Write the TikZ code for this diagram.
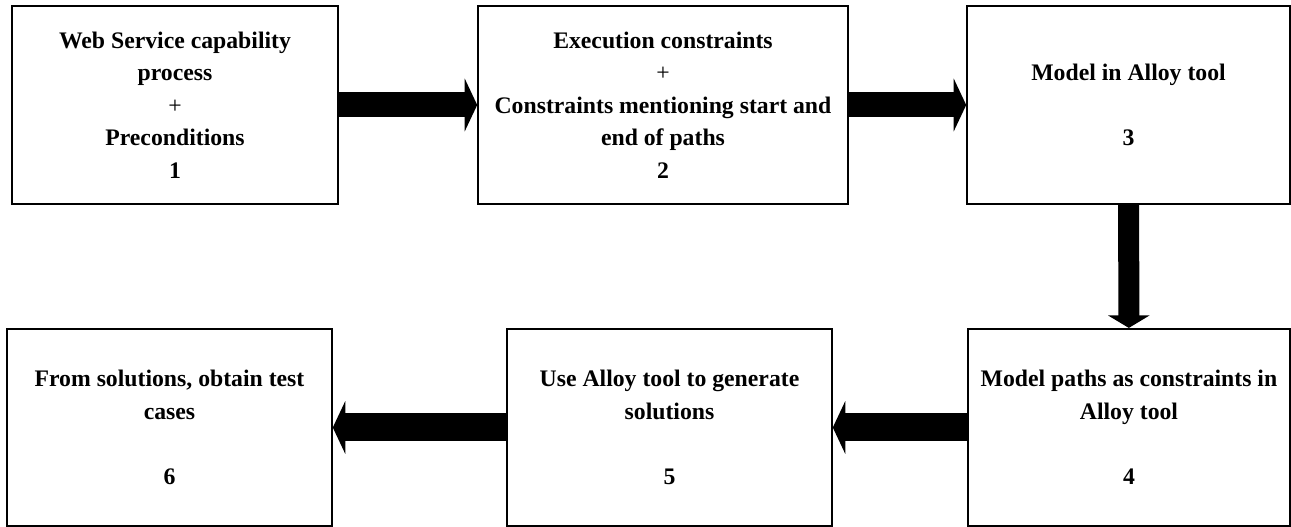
\documentclass[tikz,border=0pt]{standalone}
\usepackage{fontspec}
\setmainfont{Liberation Serif}
\usetikzlibrary{arrows.meta}
\tikzset{
  step-box/.style={
    draw,
    line width=0.9pt,
    align=center,
    minimum height=3.95cm,
    inner sep=2pt,
    font=\bfseries\fontsize{13.5}{18.5}\selectfont},
  flow-arrow/.style 2 args={line width=#1, -{Triangle[width=#2,length=0.25cm]}},
}
\newcommand{\plussign}{{\mdseries +}}

\begin{document}
\begin{tikzpicture}
\useasboundingbox (0,0) rectangle (25.82,10.54);
% upper row
\node[step-box, minimum width=6.52cm] (capability) at (3.50,8.44)
  {Web Service capability\\process\\\plussign\\Preconditions\\1};
\node[step-box, minimum width=7.40cm] (constraints) at (13.26,8.44)
  {Execution constraints\\\plussign\\Constraints mentioning start and\\end of paths\\2};
\node[step-box, minimum width=6.46cm] (alloymodel) at (22.57,8.44)
  {Model in Alloy tool\\[18.5pt]3};
% lower row
\node[step-box, minimum width=6.44cm] (pathmodel) at (22.58,1.99)
  {Model paths as constraints in\\Alloy tool\\[18.5pt]4};
\node[step-box, minimum width=6.50cm] (solutions) at (13.39,1.99)
  {Use Alloy tool to generate\\solutions\\[18.5pt]5};
\node[step-box, minimum width=6.50cm] (testcases) at (3.39,1.99)
  {From solutions, obtain test\\cases\\[18.5pt]6};
% flow between the steps
\draw[flow-arrow={0.5cm}{1.05cm}] (capability) -- (constraints);
\draw[flow-arrow={0.5cm}{1.05cm}] (constraints) -- (alloymodel);
\draw[flow-arrow={0.42cm}{0.82cm}] (alloymodel) -- (pathmodel);
\draw[flow-arrow={0.56cm}{1.05cm}] (pathmodel) -- (solutions);
\draw[flow-arrow={0.56cm}{1.05cm}] (solutions) -- (testcases);
\end{tikzpicture}
\end{document}
